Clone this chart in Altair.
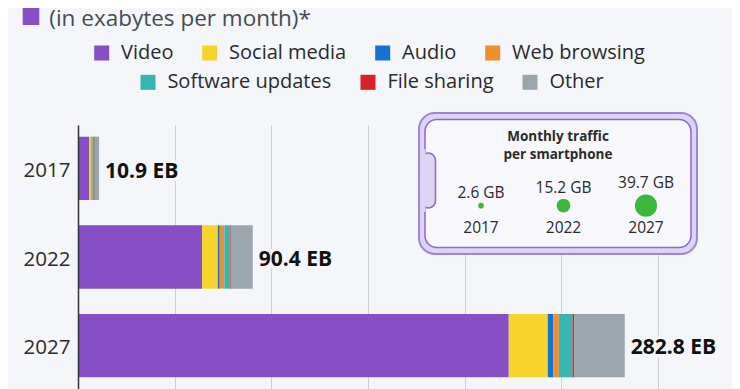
import altair as alt
import pandas as pd

# ---------------- data ----------------
years = ["2017", "2022", "2027"]
categories = ["Video", "Social media", "Audio", "Web browsing",
              "Software updates", "File sharing", "Other"]
colors = ["#874fc5", "#f6d42b", "#1672d0", "#f18d2f", "#36b6ae", "#d81f2a", "#9ba5ad"]

video = [5.9, 64.2, 222.8]
social_media = [0.8, 8.1, 20.2]
audio = [0.3, 1.0, 2.8]
web_browsing = [0.5, 2.4, 2.9]
software_updates = [1.1, 2.8, 7.1]
file_sharing = [0.2, 0.5, 0.9]
other = [2.1, 11.4, 26.1]
totals = [10.9, 90.4, 282.8]

phone_gb = [2.6, 15.2, 39.7]

subtitle = "(in exabytes per month)*"
inset_title_1 = "Monthly traffic"
inset_title_2 = "per smartphone"

# ---------------- style ----------------
BG = "#f4f6f9"
FONT = "Open Sans"
TXT = "#2a2a2a"

series = [video, social_media, audio, web_browsing, software_updates, file_sharing, other]
rows = []
for ci, (cat, vals) in enumerate(zip(categories, series)):
    for yi, yr in enumerate(years):
        rows.append({"year": yr, "category": cat, "value": vals[yi], "idx": ci})
df = pd.DataFrame(rows)
tot_df = pd.DataFrame({"year": years, "total": totals})
phone_df = pd.DataFrame({"year": years, "gb": phone_gb})

x_scale = alt.Scale(domain=[0, 300], nice=False, zero=True)
y_scale = alt.Scale(domain=years, paddingInner=0.286, paddingOuter=0.132)

bars = alt.Chart(df).mark_bar().encode(
    y=alt.Y("year:N", sort=years, scale=y_scale,
            axis=alt.Axis(title=None, labelFontSize=20.5, labelFont=FONT, labelColor=TXT,
                          labelPadding=8, labelOffset=2.5, ticks=False,
                          domainColor="#333333", domainWidth=1.5, grid=False, zindex=1)),
    x=alt.X("value:Q", stack="zero", scale=x_scale,
            axis=alt.Axis(title=None, labels=False, ticks=False, domain=False, grid=True,
                          gridColor="#cdd1d6", gridWidth=1,
                          values=[0, 50, 100, 150, 200, 250, 300])),
    color=alt.Color("category:N", scale=alt.Scale(domain=categories, range=colors), legend=None),
    order=alt.Order("idx:Q"),
)

tot_base = alt.Chart(tot_df).transform_calculate(
    label="format(datum.total, '.1f') + ' EB'"
).encode(
    y=alt.Y("year:N", sort=years, scale=y_scale, axis=None),
    x=alt.X("total:Q", scale=x_scale, axis=None),
    text=alt.Text("label:N"),
)
tot_halo = tot_base.mark_text(align="left", baseline="middle", dx=6, dy=2.5, fontSize=21,
                              font=FONT, fontWeight="bold", color=BG, stroke=BG,
                              strokeWidth=7)
tot_text = tot_base.mark_text(align="left", baseline="middle", dx=6, dy=2.5, fontSize=21,
                              font=FONT, fontWeight="bold", color="#111111")

one = pd.DataFrame({"k": [0]})

box_outer = alt.Chart(one).mark_rect(
    fill="#ddd3f3", stroke="#9f86db", strokeWidth=2, cornerRadius=16
).encode(x=alt.value(341), x2=alt.value(619), y=alt.value(-12), y2=alt.value(129))
box_inner = alt.Chart(one).mark_rect(
    fill="#f8f7fc", stroke="#8c68d4", strokeWidth=1.5, cornerRadius=12
).encode(x=alt.value(347), x2=alt.value(613), y=alt.value(-5.5), y2=alt.value(122.5))
notch = alt.Chart(one).mark_rect(
    fill="#ddd3f3", stroke="#8c68d4", strokeWidth=1.5, cornerRadius=8
).encode(x=alt.value(343), x2=alt.value(357.5), y=alt.value(28), y2=alt.value(83))
notch_cover = alt.Chart(one).mark_rect(fill="#ddd3f3").encode(
    x=alt.value(342), x2=alt.value(347.5), y=alt.value(24), y2=alt.value(87))

head_1 = alt.Chart(one).mark_text(
    align="center", baseline="alphabetic", fontSize=13.5, font=FONT, fontWeight="bold",
    color=TXT
).encode(x=alt.value(480), y=alt.value(15.5), text=alt.value(inset_title_1))
head_2 = alt.Chart(one).mark_text(
    align="center", baseline="alphabetic", fontSize=13.5, font=FONT, fontWeight="bold",
    color=TXT
).encode(x=alt.value(480), y=alt.value(34), text=alt.value(inset_title_2))

px = alt.X("year:N", sort=years, scale=alt.Scale(domain=years, range=[403, 568], padding=0),
           axis=None)
circles = alt.Chart(phone_df).mark_circle(color="#3cb93c", opacity=1).encode(
    x=px, y=alt.value(80.7),
    size=alt.Size("gb:Q", scale=alt.Scale(domain=[0, 39.7], range=[0, 491], zero=True),
                  legend=None),
)
gb_labels = alt.Chart(phone_df).transform_calculate(
    label="format(datum.gb, '.1f') + ' GB'"
).mark_text(align="center", baseline="alphabetic", fontSize=15.5, font=FONT, color=TXT).encode(
    x=px,
    y=alt.Y("gb:Q", scale=alt.Scale(type="sqrt", domain=[0, 39.7], range=[75.7, 63.2],
                                    nice=False, zero=True), axis=None),
    text=alt.Text("label:N"),
)
yr_labels = alt.Chart(phone_df).mark_text(
    align="center", baseline="alphabetic", fontSize=15.5, font=FONT, color=TXT
).encode(x=px, y=alt.value(107.7), text=alt.Text("year:N"))

sub_rect = alt.Chart(one).mark_rect(fill="#874fc5").encode(
    x=alt.value(-55.3), x2=alt.value(-38.7), y=alt.value(-125), y2=alt.value(-100))
sub_text = alt.Chart(one).mark_text(
    align="left", baseline="alphabetic", fontSize=22.5, font=FONT, color="#464c52"
).encode(x=alt.value(-28.7), y=alt.value(-99.5), text=alt.value(subtitle))


def legend_layer(cats, cols, lx, ly):
    return alt.Chart(pd.DataFrame({"category": cats})).mark_square(opacity=0).encode(
        color=alt.Color("category:N", sort=cats,
                        scale=alt.Scale(domain=cats, range=cols),
                        legend=alt.Legend(orient="none", legendX=lx, legendY=ly,
                                          direction="horizontal", title=None,
                                          symbolType="square", symbolSize=225,
                                          symbolOpacity=1, symbolStrokeWidth=0,
                                          labelFontSize=20, labelFont=FONT,
                                          labelColor=TXT, labelOffset=9.4,
                                          labelLimit=0,
                                          columnPadding=26, padding=0)),
    )


leg1 = legend_layer(categories[:4], colors[:4], 13.7, -82)
leg2 = legend_layer(categories[4:], colors[4:], 60, -52.7)

chart = alt.layer(
    bars, tot_halo, tot_text,
    box_outer, box_inner, notch, notch_cover,
    head_1, head_2, circles, gb_labels, yr_labels,
    sub_rect, sub_text, leg1, leg2,
).resolve_scale(
    color="independent", x="independent", y="independent", size="independent"
).properties(
    width=580, height=264,
    padding={"left": 70, "top": 117, "right": 74, "bottom": 0},
    autosize=alt.AutoSizeParams(type="none"),
    background=BG,
).configure_view(stroke=None)

chart.save("out.html", embed_options={"renderer": "svg", "actions": False})
